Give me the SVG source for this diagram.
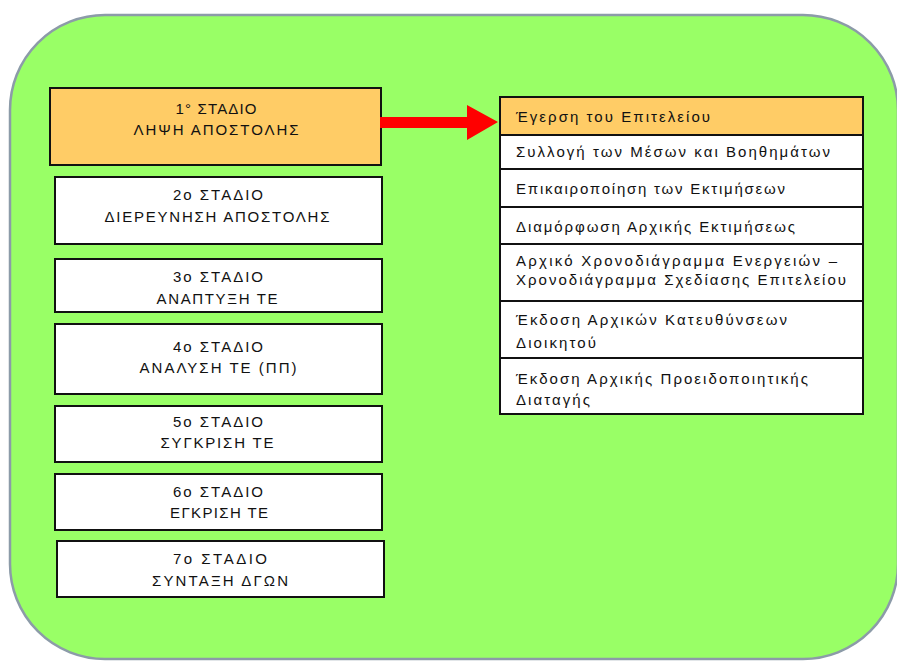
<svg xmlns="http://www.w3.org/2000/svg" width="897" height="661" viewBox="0 0 897 661">
<defs>
<style>
.bg{fill:#99FF66;stroke:#8C9BA8;stroke-width:2.5}
.box{stroke:#111;stroke-width:2}
.w{fill:#FFFFFF}
.o{fill:#FFCC66}
.lt{font-family:"Liberation Sans","Noto Sans",sans-serif;font-size:15px;fill:#111;text-anchor:middle}
.rt{font-family:"Liberation Sans","Noto Sans",sans-serif;font-size:15px;fill:#111}
</style>
</defs>
<rect class="bg" x="10" y="15" width="888" height="644" rx="95" ry="95"/>

<g id="stage1">
<rect class="box o" x="50" y="88" width="331" height="77"/>
<text class="lt" x="216" y="114" textLength="81" lengthAdjust="spacing">1° ΣΤΑΔΙΟ</text>
<text class="lt" x="216" y="135" textLength="165" lengthAdjust="spacing">ΛΗΨΗ ΑΠΟΣΤΟΛΗΣ</text>
</g>
<g id="stage2">
<rect class="box w" x="55" y="177" width="327" height="67"/>
<text class="lt" x="218" y="200" textLength="90" lengthAdjust="spacing">2ο ΣΤΑΔΙΟ</text>
<text class="lt" x="217" y="222" textLength="225" lengthAdjust="spacing">ΔΙΕΡΕΥΝΗΣΗ ΑΠΟΣΤΟΛΗΣ</text>
</g>
<g id="stage3">
<rect class="box w" x="55" y="259" width="327" height="53"/>
<text class="lt" x="218" y="282" textLength="90" lengthAdjust="spacing">3ο ΣΤΑΔΙΟ</text>
<text class="lt" x="217" y="304" textLength="121" lengthAdjust="spacing">ΑΝΑΠΤΥΞΗ ΤΕ</text>
</g>
<g id="stage4">
<rect class="box w" x="55" y="324" width="327" height="70"/>
<text class="lt" x="218" y="352" textLength="90" lengthAdjust="spacing">4ο ΣΤΑΔΙΟ</text>
<text class="lt" x="218" y="373" textLength="157" lengthAdjust="spacing">ΑΝΑΛΥΣΗ ΤΕ (ΠΠ)</text>
</g>
<g id="stage5">
<rect class="box w" x="55" y="406" width="327" height="56"/>
<text class="lt" x="218" y="427" textLength="90" lengthAdjust="spacing">5ο ΣΤΑΔΙΟ</text>
<text class="lt" x="217" y="448" textLength="113" lengthAdjust="spacing">ΣΥΓΚΡΙΣΗ ΤΕ</text>
</g>
<g id="stage6">
<rect class="box w" x="55" y="474" width="327" height="56"/>
<text class="lt" x="218" y="497" textLength="90" lengthAdjust="spacing">6ο ΣΤΑΔΙΟ</text>
<text class="lt" x="219" y="518" textLength="98" lengthAdjust="spacing">ΕΓΚΡΙΣΗ ΤΕ</text>
</g>
<g id="stage7">
<rect class="box w" x="57" y="541" width="327" height="56"/>
<text class="lt" x="220" y="564" textLength="94" lengthAdjust="spacing">7ο ΣΤΑΔΙΟ</text>
<text class="lt" x="220" y="586" textLength="136" lengthAdjust="spacing">ΣΥΝΤΑΞΗ ΔΓΩΝ</text>
</g>

<g id="tasks">
<g id="task1">
<rect class="box o" x="500" y="97" width="363" height="38"/>
<text class="rt" x="516" y="122" textLength="194" lengthAdjust="spacing">Έγερση του Επιτελείου</text>
</g>
<g id="task2">
<rect class="box w" x="500" y="135" width="363" height="34"/>
<text class="rt" x="516" y="157" textLength="314" lengthAdjust="spacing">Συλλογή των Μέσων και Βοηθημάτων</text>
</g>
<g id="task3">
<rect class="box w" x="500" y="169" width="363" height="38"/>
<text class="rt" x="516" y="194" textLength="269" lengthAdjust="spacing">Επικαιροποίηση των Εκτιμήσεων</text>
</g>
<g id="task4">
<rect class="box w" x="500" y="207" width="363" height="37"/>
<text class="rt" x="516" y="232" textLength="279" lengthAdjust="spacing">Διαμόρφωση Αρχικής Εκτιμήσεως</text>
</g>
<g id="task5">
<rect class="box w" x="500" y="244" width="363" height="57"/>
<text class="rt" x="516" y="266" textLength="321" lengthAdjust="spacing">Αρχικό Χρονοδιάγραμμα Ενεργειών –</text>
<text class="rt" x="516" y="285" textLength="330" lengthAdjust="spacing">Χρονοδιάγραμμα Σχεδίασης Επιτελείου</text>
</g>
<g id="task6">
<rect class="box w" x="500" y="301" width="363" height="57"/>
<text class="rt" x="516" y="325" textLength="271" lengthAdjust="spacing">Έκδοση Αρχικών Κατευθύνσεων</text>
<text class="rt" x="516" y="348" textLength="80" lengthAdjust="spacing">Διοικητού</text>
</g>
<g id="task7">
<rect class="box w" x="500" y="358" width="363" height="56"/>
<text class="rt" x="516" y="384" textLength="292" lengthAdjust="spacing">Έκδοση Αρχικής Προειδοποιητικής</text>
<text class="rt" x="516" y="405" textLength="74" lengthAdjust="spacing">Διαταγής</text>
</g>
</g>

<g id="connectors">
<polygon fill="#FF0000" points="380,117 467,117 467,105 498,122 467,140 467,128 380,128"/>
</g>
</svg>
